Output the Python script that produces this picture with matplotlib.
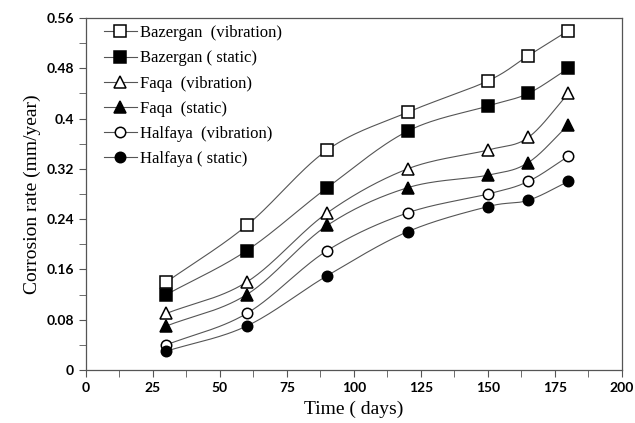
import numpy as np
import matplotlib
matplotlib.use("Agg")
import matplotlib.pyplot as plt
from matplotlib.ticker import MultipleLocator

days = [30, 60, 90, 120, 150, 165, 180]

bazergan_vib = [0.14, 0.23, 0.35, 0.41, 0.46, 0.50, 0.54]
bazergan_static = [0.12, 0.19, 0.29, 0.38, 0.42, 0.44, 0.48]
faqa_vib = [0.09, 0.14, 0.25, 0.32, 0.35, 0.37, 0.44]
faqa_static = [0.07, 0.12, 0.23, 0.29, 0.31, 0.33, 0.39]
halfaya_vib = [0.04, 0.09, 0.19, 0.25, 0.28, 0.30, 0.34]
halfaya_static = [0.03, 0.07, 0.15, 0.22, 0.26, 0.27, 0.30]

labels = ["Bazergan  (vibration)", "Bazergan ( static)", "Faqa  (vibration)",
          "Faqa  (static)", "Halfaya  (vibration)", "Halfaya ( static)"]
yticks = [0, 0.08, 0.16, 0.24, 0.32, 0.4, 0.48, 0.56]
ytick_labels = ["0", "0.08", "0.16", "0.24", "0.32", "0.4", "0.48", "0.56"]
xticks = [0, 25, 50, 75, 100, 125, 150, 175, 200]


def smooth(x, y, n=30):
    # catmull-rom curve through the points, like excel's smoothed line
    x = np.asarray(x, float)
    y = np.asarray(y, float)
    px = np.concatenate([[2 * x[0] - x[1]], x, [2 * x[-1] - x[-2]]])
    py = np.concatenate([[2 * y[0] - y[1]], y, [2 * y[-1] - y[-2]]])
    t = np.linspace(0, 1, n)
    xs, ys = [], []
    for i in range(1, len(px) - 2):
        for p, out in ((px, xs), (py, ys)):
            p0, p1, p2, p3 = p[i - 1], p[i], p[i + 1], p[i + 2]
            out.extend(0.5 * (2 * p1 + (-p0 + p2) * t
                              + (2 * p0 - 5 * p1 + 4 * p2 - p3) * t ** 2
                              + (-p0 + 3 * p1 - 3 * p2 + p3) * t ** 3))
    return xs, ys


series = [bazergan_vib, bazergan_static, faqa_vib, faqa_static, halfaya_vib, halfaya_static]
styles = [("s", "white", 8), ("s", "black", 8), ("^", "white", 8),
          ("^", "black", 8), ("o", "white", 7.5), ("o", "black", 7.5)]

fig = plt.figure(figsize=(6.35, 4.23), dpi=100)
ax = fig.add_axes([0.1354, 0.1253, 0.8441, 0.8321])

for vals, (m, fc, ms), lab in zip(series, styles, labels):
    sx, sy = smooth(days, vals)
    ax.plot(sx, sy, color="#555555", lw=0.8, zorder=2)
    ax.plot(days, vals, linestyle="none", marker=m, markersize=ms,
            markerfacecolor=fc, markeredgecolor="black", markeredgewidth=1.1, zorder=3)
    ax.plot([], [], color="#555555", lw=0.8, marker=m, markersize=ms,
            markerfacecolor=fc, markeredgecolor="black", markeredgewidth=1.1, label=lab)

ax.set_xlim(0, 200)
ax.set_ylim(0, 0.56)
ax.set_xticks(xticks)
ax.set_yticks(yticks)
ax.set_yticklabels(ytick_labels)
ax.xaxis.set_minor_locator(MultipleLocator(12.5))
ax.yaxis.set_minor_locator(MultipleLocator(0.04))
ax.tick_params(which="both", direction="out", color="#555555")
ax.tick_params(which="major", length=5)
ax.tick_params(which="minor", length=5)
for lab in ax.get_xticklabels() + ax.get_yticklabels():
    lab.set_fontfamily("Lato")
    lab.set_fontweight("bold")
    lab.set_fontsize(10)

for sp in ax.spines.values():
    sp.set_color("#555555")
    sp.set_linewidth(0.9)

ax.set_xlabel("Time ( days)", fontfamily="Liberation Serif", fontsize=14, labelpad=5)
ax.set_ylabel("Corrosion rate (mm/year)", fontfamily="Liberation Serif", fontsize=14)

ax.legend(loc="upper left", frameon=False, prop={"family": "Liberation Serif", "size": 12},
          handlelength=2.0, handletextpad=0.2, labelspacing=0.55,
          bbox_to_anchor=(0.005, 1.022))

fig.savefig("out.png", dpi=100)
